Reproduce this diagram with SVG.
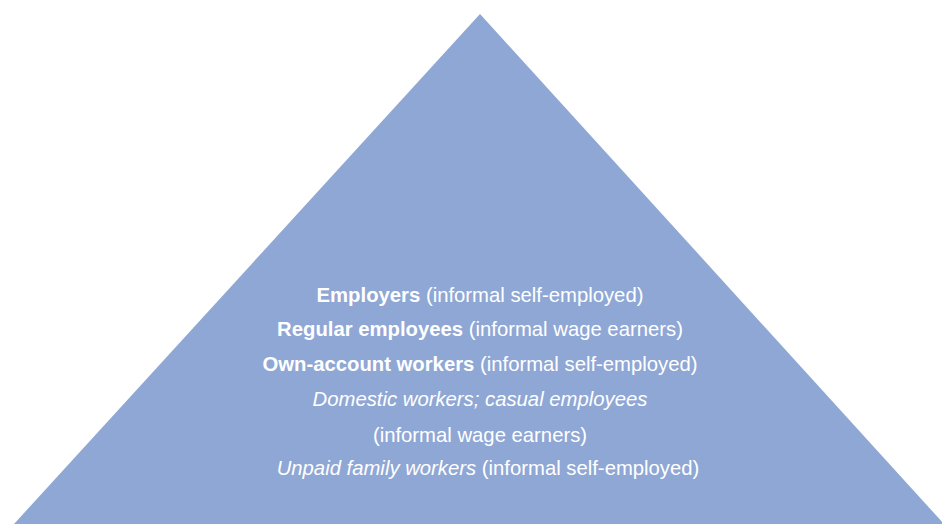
<svg xmlns="http://www.w3.org/2000/svg" width="942" height="524" viewBox="0 0 942 524">
<style>
text{font-family:"Liberation Sans",Arial,sans-serif;font-size:20.3px;fill:#ffffff;text-anchor:middle}
.b{font-weight:bold}
.i{font-style:italic}
</style>
<rect width="942" height="524" fill="#ffffff"/>
<g id="pyramid">
<polygon points="480,14 14,524 944,524" fill="#8FA7D5"/>
</g>
<g id="labels">
<text x="480" y="302"><tspan class="b">Employers</tspan> (informal self-employed)</text>
<text x="480" y="336"><tspan class="b">Regular employees</tspan> (informal wage earners)</text>
<text x="480" y="371"><tspan class="b">Own-account workers</tspan> (informal self-employed)</text>
<text x="480" y="406" class="i">Domestic workers; casual employees</text>
<text x="480" y="442">(informal wage earners)</text>
<text x="488" y="475"><tspan class="i">Unpaid family workers</tspan> (informal self-employed)</text>
</g>
</svg>
